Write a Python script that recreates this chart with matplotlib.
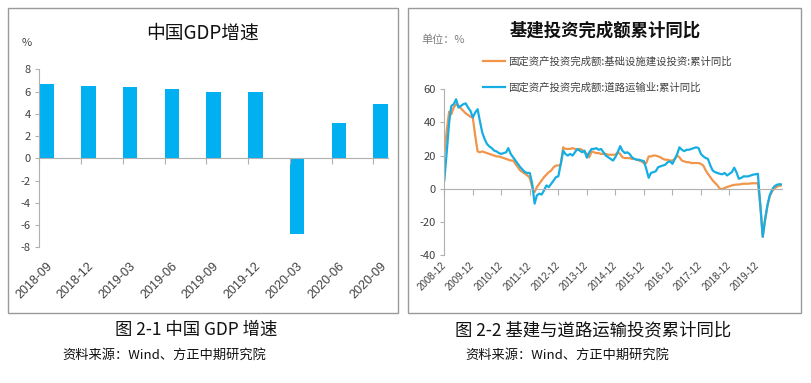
import pandas as pd
import matplotlib
matplotlib.use('Agg')
import matplotlib.pyplot as plt
import matplotlib.transforms as mtransforms
from matplotlib.patches import Rectangle

plt.rcParams['font.family'] = ['Noto Sans CJK SC', 'DejaVu Sans']
plt.rcParams['axes.unicode_minus'] = False

# Plot config
DPI = 100
WIDTH = 811.0
HEIGHT = 383.0
BAR_COLOR = '#00B0F0'
ORANGE = '#F0954A'
BLUE = '#16AEE2'
AXIS_GRAY = '#B0B0B0'
TEXT = '#404040'

# left: GDP growth
gdp_quarters = ['2018-09', '2018-12', '2019-03', '2019-06', '2019-09',
                '2019-12', '2020-03', '2020-06', '2020-09']
gdp_growth = [6.7, 6.5, 6.4, 6.2, 6.0, 6.0, -6.8, 3.2, 4.9]

# right: monthly cumulative yoy, 2008-12 .. 2020-10
infra_yoy = [
    21,
    35, 46.5, 45, 49, 51, 50, 48.5, 47, 45.5, 44.5, 43.5, 43,
    32, 22.5, 22, 22.5, 22, 21.5, 21, 20.5, 20, 19.5, 19.5, 19,
    18.5, 18, 17.5, 17, 17, 15, 13, 11, 10, 9, 8, 6.5,
    1, -2, 1, 3, 5, 7, 8.5, 10, 11, 13, 14, 14,
    14.5, 25, 24, 24, 24, 24.5, 24, 23.5, 24, 23.5, 22, 21,
    19, 22.5, 22, 21.5, 21.5, 21, 21, 21, 20.5, 20.5, 20.5, 20.5,
    22, 21, 19, 18.5, 18.5, 18.5, 18, 18, 17.5, 17, 16.5, 15.5,
    15.5, 19.5, 19.5, 20, 20, 19.5, 19, 18, 17.5, 17.5, 17, 17,
    18, 20, 19, 17, 16.5, 16, 16, 15.5, 15.5, 15.5, 15.5, 15,
    14, 11, 9, 7, 5, 3.5, 2, 0, -0.3, 0.5, 1, 1.5,
    2, 2.3, 2.5, 2.5, 2.8, 3, 3, 3, 3.2, 3.3, 3.3, 3.3,
    -10, -29, -19, -10.5, -4.5, -1.5, 0.3, 1.2, 1.8, 2,
]
road_yoy = [
    5,
    22, 40, 50, 51, 54, 49, 50, 51, 51.5, 49, 47, 43,
    46, 48, 41, 34, 30, 27, 25.5, 24.5, 23, 22.5, 21.5, 21,
    21.5, 22, 24.5, 21, 19, 17, 15, 13, 11.5, 10, 9.5, 9.5,
    3, -9, -4, -3, -3.5, -1, 2, 1, 3, 5, 7, 7.5,
    15, 23, 21, 20, 21, 20, 22, 24, 23, 22, 23, 18.7,
    22, 24, 24, 24.5, 23.5, 24, 22, 20, 19, 18, 17, 19,
    22, 25.7, 23, 21.5, 22, 21, 19, 18, 17.5, 17.5, 17, 16.7,
    12, 6.6, 9.5, 10, 10.5, 13, 13.5, 14, 14.5, 16, 16.5, 15,
    18, 21, 25, 23.5, 22.7, 23.5, 23.5, 24, 24.5, 25, 24.5, 21,
    19.5, 18.5, 18, 14, 11, 10, 9.5, 9, 8.7, 9.5, 8, 9,
    10, 12.7, 10, 6, 6.5, 7.5, 7.4, 7.5, 8, 8.5, 8.7, 9,
    -10, -29, -19, -10, -4, -0.5, 1.5, 2.4, 2.7, 2.6,
]
months = pd.date_range('2008-12-01', periods=len(road_yoy), freq='MS')
year_ticks = pd.date_range('2008-12-01', '2019-12-01', freq='12MS')
infra_label = '固定资产投资完成额:基础设施建设投资:累计同比'
road_label = '固定资产投资完成额:道路运输业:累计同比'


def _fx(px):
    return px / WIDTH


def _fy(py):
    return 1 - py / HEIGHT


def _style_axes(ax):
    for side in ['top', 'right']:
        ax.spines[side].set_visible(False)
    ax.spines['left'].set_color(AXIS_GRAY)
    ax.spines['bottom'].set_color(AXIS_GRAY)
    ax.spines['bottom'].set_position(('data', 0))
    ax.tick_params(axis='y', length=3, color=AXIS_GRAY, labelsize=8,
                   labelcolor=TEXT, pad=3)
    ax.tick_params(axis='x', length=4, color=AXIS_GRAY, direction='out',
                   labelbottom=False)


def _draw_gdp(fig):
    ax = fig.add_axes([_fx(39.3), _fy(247.3), _fx(388 - 39.3), (247.3 - 69.3) / HEIGHT])
    xs = list(range(len(gdp_growth)))
    ax.bar(xs, gdp_growth, width=0.35, align='edge', color=BAR_COLOR)
    ax.set_xlim(0, len(gdp_growth) - 0.65)
    ax.set_ylim(-8, 8)
    ax.set_yticks(range(-8, 9, 2))
    ax.set_xticks(xs)
    _style_axes(ax)
    trans = mtransforms.blended_transform_factory(ax.transData, ax.transAxes)
    for x, lab in zip(xs, gdp_quarters):
        ax.text(x + 0.26, -0.095, lab, transform=trans, rotation=45,
                ha='right', va='center', rotation_mode='anchor',
                fontsize=9, color=TEXT, family=['Liberation Sans'])
    fig.text(_fx(27), _fy(43), '%', ha='center', va='center', fontsize=8, color=TEXT)
    fig.text(_fx(203), _fy(33), '中国GDP增速', ha='center', va='center',
             fontsize=13.5, color='#111111')


def _draw_infra(fig):
    ax = fig.add_axes([_fx(444.3), _fy(255), _fx(781.7 - 444.3), (255 - 89.3) / HEIGHT])
    ax.plot(months, infra_yoy, color=ORANGE, lw=1.6, label=infra_label)
    ax.plot(months, road_yoy, color=BLUE, lw=1.6, label=road_label)
    ax.set_xlim(months[0], months[-1])
    ax.set_ylim(-40, 60)
    ax.set_yticks(range(-40, 61, 20))
    ax.set_xticks(year_ticks)
    _style_axes(ax)
    trans = mtransforms.blended_transform_factory(ax.transData, ax.transAxes)
    for d in year_ticks:
        ax.text(d, -0.055, d.strftime('%Y-%m'), transform=trans, rotation=45,
                ha='right', va='center', rotation_mode='anchor',
                fontsize=7, color=TEXT, family=['Liberation Sans'])
    ax.legend(loc='upper left', bbox_to_anchor=(_fx(483), _fy(56)),
              bbox_transform=fig.transFigure, frameon=False, fontsize=7.5,
              handlelength=2.1, handletextpad=0.3, labelspacing=1.5,
              borderpad=0, borderaxespad=0, labelcolor=TEXT)
    fig.text(_fx(421), _fy(40), '单位：%', ha='left', va='center', fontsize=8,
             color='#7F7F7F')
    fig.text(_fx(605), _fy(31), '基建投资完成额累计同比', ha='center', va='center',
             fontsize=12.5, fontweight='bold', color='#111111')


def _draw_frames(fig):
    for x0, x1 in [(8, 398), (408, 801)]:
        fig.patches.append(Rectangle((_fx(x0), _fy(313)), _fx(x1 - x0), (313 - 8) / HEIGHT,
                                     transform=fig.transFigure, fill=False,
                                     edgecolor='#9A9A9A', lw=1))
    fig.text(_fx(115), _fy(330), '图 2-1 中国 GDP 增速', ha='left', va='center',
             fontsize=12.5, color='#111111')
    fig.text(_fx(62), _fy(355), '资料来源：Wind、方正中期研究院', ha='left',
             va='center', fontsize=9.5, color='#111111')
    fig.text(_fx(455), _fy(330), '图 2-2 基建与道路运输投资累计同比', ha='left',
             va='center', fontsize=12.5, color='#111111')
    fig.text(_fx(465), _fy(355), '资料来源：Wind、方正中期研究院', ha='left',
             va='center', fontsize=9.5, color='#111111')


fig = plt.figure(figsize=(WIDTH / DPI, HEIGHT / DPI), dpi=DPI)
_draw_gdp(fig)
_draw_infra(fig)
_draw_frames(fig)
fig.savefig('out.png', dpi=DPI)
